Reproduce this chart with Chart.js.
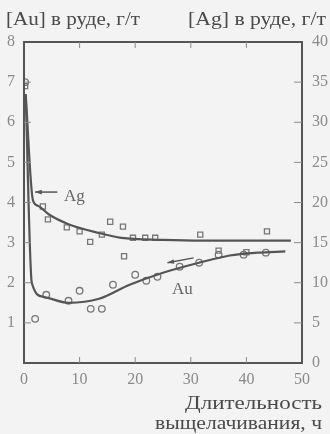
<!DOCTYPE html>
<html lang="ru">
<head>
<meta charset="UTF-8" />
<title>Au / Ag leaching</title>
<script src="https://cdn.jsdelivr.net/npm/chart.js@4.4.1/dist/chart.umd.min.js"></script>
<style>
  html, body { margin: 0; padding: 0; background: #f3f3f3; }
  #wrap { width: 330px; height: 434px; }
</style>
</head>
<body>
<div id="wrap"><canvas id="chart" width="330" height="434"></canvas></div>
<script>
// smooth fitted curves
const auCurveHours = [0.3, 1.4, 3.5, 8, 13.5, 19, 25, 31.5, 37, 42, 47];
const auCurveValues = [6.7, 2.0, 1.65, 1.5, 1.6, 1.95, 2.25, 2.5, 2.68, 2.75, 2.78];
const agCurveHours = [0.3, 1.6, 2.5, 4.5, 8, 13.5, 17.5, 25, 32, 48];
const agCurveValues = [33.5, 20.3, 19.6, 18.5, 17.3, 16.2, 15.6, 15.35, 15.25, 15.25];

// measured points
const auPointHours = [0.2, 2, 4, 8, 10, 12, 14, 16, 20, 22, 24, 28, 31.5, 35, 39.5, 43.5];
const auPointValues = [7.0, 1.1, 1.7, 1.55, 1.8, 1.35, 1.35, 1.95, 2.2, 2.05, 2.15, 2.4, 2.5, 2.7, 2.7, 2.75];
const agPointHours = [0.2, 3.4, 4.3, 7.7, 10, 11.9, 14, 15.5, 17.8, 18, 19.6, 21.8, 23.6, 31.7, 35, 40, 43.7];
const agPointValues = [34.5, 19.5, 17.9, 16.9, 16.4, 15.1, 16, 17.6, 17, 13.3, 15.6, 15.6, 15.6, 16, 14, 13.8, 16.4];

const hourTicks = [0, 10, 20, 30, 40, 50];
const auTicks = [1, 2, 3, 4, 5, 6, 7, 8];
const agTicks = [0, 5, 10, 15, 20, 25, 30, 35, 40];

const ink = '#555';
const pale = '#8a8a8a';
const serif = '"Liberation Serif", "DejaVu Serif", serif';

function pts(xs, ys) {
    return xs.map((x, i) => ({ x: x, y: ys[i] }));
}

function arrow(ctx, x1, y1, x2, y2) {
    // head at (x1, y1)
    ctx.beginPath();
    ctx.moveTo(x1, y1);
    ctx.lineTo(x2, y2);
    ctx.stroke();
    const a = Math.atan2(y2 - y1, x2 - x1);
    ctx.beginPath();
    ctx.moveTo(x1, y1);
    ctx.lineTo(x1 + 7 * Math.cos(a + 0.35), y1 + 7 * Math.sin(a + 0.35));
    ctx.lineTo(x1 + 7 * Math.cos(a - 0.35), y1 + 7 * Math.sin(a - 0.35));
    ctx.closePath();
    ctx.fill();
}

// the scan is a bit wider than the font, so stretch the text to its width
function wideText(ctx, text, left, baseline, width) {
    const w = ctx.measureText(text).width;
    ctx.save();
    ctx.translate(left, baseline);
    ctx.scale(width / w, 1);
    ctx.textAlign = 'left';
    ctx.fillText(text, 0, 0);
    ctx.restore();
}

const decor = {
    id: 'decor',
    beforeDraw(chart) {
        const c = chart.ctx;
        c.save();
        c.fillStyle = '#f3f3f3';
        c.fillRect(0, 0, chart.width, chart.height);
        c.restore();
    },
    afterDraw(chart) {
        const c = chart.ctx;
        const a = chart.chartArea;
        const sx = chart.scales.x, sau = chart.scales.yAu, sag = chart.scales.yAg;
        c.save();
        // frame
        c.strokeStyle = ink;
        c.lineWidth = 2;
        c.strokeRect(a.left, a.top, a.right - a.left, a.bottom - a.top);
        // inner ticks
        c.lineWidth = 1;
        c.strokeStyle = pale;
        hourTicks.slice(1, -1).forEach(h => {
            const px = sx.getPixelForValue(h);
            c.beginPath();
            c.moveTo(px, a.bottom); c.lineTo(px, a.bottom - 6);
            c.moveTo(px, a.top); c.lineTo(px, a.top + 6);
            c.stroke();
        });
        auTicks.slice(0, -1).forEach(v => {
            const py = sau.getPixelForValue(v);
            c.beginPath();
            c.moveTo(a.left, py); c.lineTo(a.left + 7, py);
            c.stroke();
        });
        agTicks.slice(1, -1).forEach(v => {
            const py = sag.getPixelForValue(v);
            c.beginPath();
            c.moveTo(a.right, py); c.lineTo(a.right - 8, py);
            c.stroke();
        });

        // labels on curves
        c.strokeStyle = ink;
        c.fillStyle = ink;
        c.lineWidth = 1.5;
        arrow(c, sx.getPixelForValue(2.0), sag.getPixelForValue(21.3),
                 sx.getPixelForValue(6.0), sag.getPixelForValue(21.3));
        arrow(c, sx.getPixelForValue(25.8), sau.getPixelForValue(2.5),
                 sx.getPixelForValue(30.5), sau.getPixelForValue(2.62));
        c.fillStyle = '#666';
        c.font = '17px ' + serif;
        c.textBaseline = 'middle';
        c.textAlign = 'left';
        c.fillText('Ag', sx.getPixelForValue(7.2), sag.getPixelForValue(20.8));
        c.fillText('Au', sx.getPixelForValue(26.6), sau.getPixelForValue(1.82));

        // axis titles
        c.fillStyle = '#4a4a4a';
        c.font = '19px ' + serif;
        c.textBaseline = 'alphabetic';
        wideText(c, '[Au] в руде, г/т', 6, 25, 134);
        wideText(c, '[Ag] в руде, г/т', 188, 25, 138);
        c.font = '19px ' + serif;
        wideText(c, 'Длительность', 185, 409, 137);
        wideText(c, 'выщелачивания, ч', 155, 429, 167);
        c.restore();
    }
};

const ctx = document.getElementById('chart').getContext('2d');
const chart = new Chart(ctx, {
    type: 'scatter',
    data: {
        datasets: [{
            label: 'Au curve',
            data: pts(auCurveHours, auCurveValues),
            yAxisID: 'yAu',
            showLine: true,
            cubicInterpolationMode: 'monotone',
            borderColor: ink,
            borderWidth: 2.2,
            pointRadius: 0
        }, {
            label: 'Ag curve',
            data: pts(agCurveHours, agCurveValues),
            yAxisID: 'yAg',
            showLine: true,
            cubicInterpolationMode: 'monotone',
            borderColor: ink,
            borderWidth: 2.2,
            pointRadius: 0
        }, {
            label: 'Au',
            data: pts(auPointHours, auPointValues),
            yAxisID: 'yAu',
            pointStyle: 'circle',
            pointRadius: 3.3,
            borderColor: '#777',
            borderWidth: 1.3,
            backgroundColor: 'rgba(0,0,0,0)'
        }, {
            label: 'Ag',
            data: pts(agPointHours, agPointValues),
            yAxisID: 'yAg',
            pointStyle: 'rect',
            pointRadius: 3.6,
            borderColor: '#777',
            borderWidth: 1.3,
            backgroundColor: 'rgba(0,0,0,0)'
        }]
    },
    options: {
        responsive: false,
        animation: false,
        layout: { padding: { top: 42, left: 0, right: 0, bottom: 0 } },
        plugins: {
            legend: { display: false },
            tooltip: { enabled: false }
        },
        scales: {
            x: {
                type: 'linear',
                min: 0, max: 50,
                afterFit: s => { s.height = 71; },
                afterBuildTicks: s => { s.ticks = hourTicks.map(v => ({ value: v })); },
                grid: { display: false, drawTicks: false },
                border: { display: false },
                ticks: {
                    padding: 7,
                    color: pale,
                    font: { family: serif, size: 16 },
                    maxRotation: 0
                }
            },
            yAu: {
                type: 'linear',
                position: 'left',
                min: 0, max: 8,
                afterFit: s => { s.width = 24; },
                afterBuildTicks: s => { s.ticks = auTicks.map(v => ({ value: v })); },
                grid: { display: false, drawTicks: false },
                border: { display: false },
                ticks: {
                    padding: 9,
                    color: pale,
                    font: { family: serif, size: 16 }
                }
            },
            yAg: {
                type: 'linear',
                position: 'right',
                min: 0, max: 40,
                afterFit: s => { s.width = 28; },
                afterBuildTicks: s => { s.ticks = agTicks.map(v => ({ value: v })); },
                grid: { display: false, drawTicks: false },
                border: { display: false },
                ticks: {
                    padding: 10,
                    color: pale,
                    font: { family: serif, size: 16 }
                }
            }
        }
    },
    plugins: [decor]
});
</script>
</body>
</html>
